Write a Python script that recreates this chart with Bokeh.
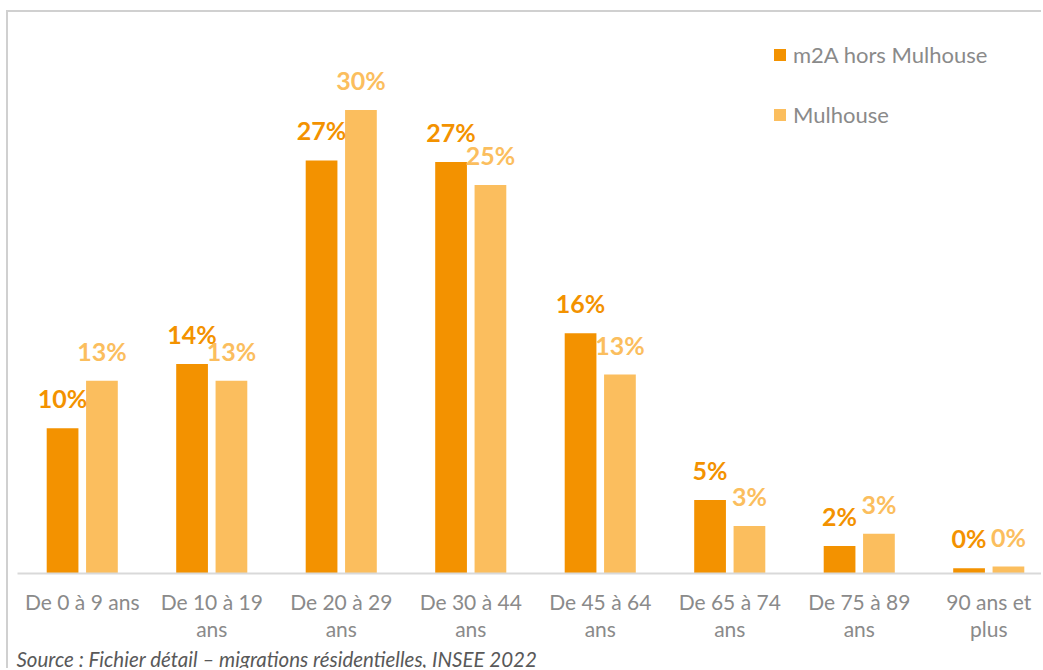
from bokeh.plotting import figure
from bokeh.models import Range1d, FixedTicker, Legend, LegendItem, Title, ColumnDataSource
from bokeh.core.properties import value
from bokeh.transform import dodge
from bokeh.embed import file_html
from bokeh.resources import INLINE

# ---- data ----
categories = ["De 0 à 9 ans", "De 10 à 19\nans", "De 20 à 29\nans", "De 30 à 44\nans",
              "De 45 à 64\nans", "De 65 à 74\nans", "De 75 à 89\nans", "90 ans et\nplus"]
m2a_hors_mulhouse = [9.5, 13.7, 27.0, 26.9, 15.7, 4.8, 1.8, 0.35]   # %
mulhouse = [12.6, 12.6, 30.3, 25.4, 13.0, 3.1, 2.6, 0.45]          # %
series_names = ["m2A hors Mulhouse", "Mulhouse"]
source_text = "Source : Fichier détail – migrations résidentielles, INSEE 2022"

DARK = "#F39200"
LIGHT = "#FBBE5E"
FONT = "Lato"
PX_PER_PCT = 15.3

idx = list(range(len(categories)))
src = ColumnDataSource(dict(
    x=idx,
    a=m2a_hors_mulhouse,
    b=mulhouse,
    a_lbl=[f"{round(v)}%" for v in m2a_hors_mulhouse],
    b_lbl=[f"{round(v)}%" for v in mulhouse],
))

W, H = 1035, 658
p = figure(width=W, height=H, output_backend="svg", toolbar_location=None,
           x_range=Range1d(-0.5, -0.5 + 1026 / 129.5), y_range=Range1d(0, 561 / PX_PER_PCT),
           y_axis_location=None, min_border_left=9, min_border_right=0,
           min_border_top=0, min_border_bottom=97)
p.styles = {"margin-left": "6px", "margin-top": "10px",
            "border-left": "2px solid #d0d0d0", "border-top": "2px solid #d0d0d0"}
p.outline_line_color = None
p.xgrid.visible = False
p.ygrid.visible = False
p.background_fill_color = "white"
p.border_fill_color = "white"

OFF = 0.152
BW = 0.245
ra = p.vbar(x=dodge("x", -OFF), top="a", width=BW, source=src, fill_color=DARK, line_color=None)
rb = p.vbar(x=dodge("x", OFF), top="b", width=BW, source=src, fill_color=LIGHT, line_color=None)

p.text(x=dodge("x", -OFF), y="a", text="a_lbl", source=src, text_align="center",
       text_baseline="alphabetic", y_offset=-30, text_font=value(FONT),
       text_font_style="bold", text_font_size="25px", text_color=DARK)
p.text(x=dodge("x", OFF), y="b", text="b_lbl", source=src, text_align="center",
       text_baseline="alphabetic", y_offset=-30, text_font=value(FONT),
       text_font_style="bold", text_font_size="25px", text_color=LIGHT)

ax = p.xaxis[0]
ax.ticker = FixedTicker(ticks=idx)
ax.major_label_overrides = {i: c for i, c in zip(idx, categories)}
ax.major_tick_line_color = None
ax.minor_tick_line_color = None
ax.axis_line_color = "#d9d9d9"
ax.axis_line_width = 2
ax.major_label_standoff = 9
ax.major_label_text_font = FONT
ax.major_label_text_font_size = "21px"
ax.major_label_text_line_height = 1.1
ax.major_label_text_color = "#8a8a8a"

legend = Legend(items=[LegendItem(label=series_names[0], renderers=[ra]),
                       LegendItem(label=series_names[1], renderers=[rb])],
                location=(755, 445), orientation="vertical",
                glyph_width=15, glyph_height=15, label_standoff=6, spacing=33,
                padding=0, margin=0, border_line_color=None, background_fill_alpha=0,
                label_text_font=FONT, label_text_font_size="22px", label_text_color="#8a8a8a")
p.add_layout(legend, "center")

p.add_layout(Title(text=source_text, align="left", offset=-1, standoff=0,
                   text_font=FONT, text_font_style="italic", text_font_size="20.5px",
                   text_color="#595959"), "below")

open("out.html", "w").write(file_html(p, INLINE))
